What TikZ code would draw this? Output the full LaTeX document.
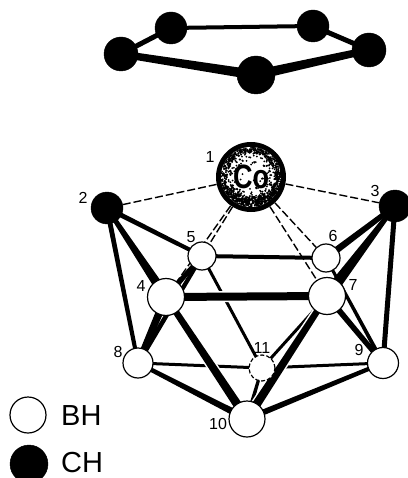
\documentclass[tikz,border=0pt]{standalone}
\usepackage{fontspec}
\setmainfont{Liberation Sans}
\usetikzlibrary{calc,backgrounds}
\newcommand{\bond}[4]{\fill ($(#1.center)!#3pt!90:(#2.center)$) -- ($(#2.center)!#4pt!-90:(#1.center)$) -- ($(#2.center)!#4pt!90:(#1.center)$) -- ($(#1.center)!#3pt!-90:(#2.center)$) -- cycle;}
\newcommand{\cbond}[4]{\begingroup\color{white}\fill ($(#1.center)!#3+1.5pt!90:(#2.center)$) -- ($(#2.center)!#4+1.5pt!-90:(#1.center)$) -- ($(#2.center)!#4+1.5pt!90:(#1.center)$) -- ($(#1.center)!#3+1.5pt!-90:(#2.center)$) -- cycle;\endgroup\bond{#1}{#2}{#3}{#4}}
\tikzset{
  ringatom/.style={circle,fill=black,draw=black,inner sep=0pt,minimum size=#1},
  bh/.style={circle,fill=white,draw=black,line width=1.2pt,inner sep=0pt,minimum size=#1},
  ch/.style={circle,fill=black,draw=black,inner sep=0pt,minimum size=#1},
  num/.style={inner sep=0pt,font=\fontsize{16}{16}\selectfont},
  legend/.style={inner sep=0pt,anchor=west,font=\fontsize{29}{29}\selectfont},
  dashbond/.style={line width=1.4pt,dash pattern=on 8pt off 3pt}
}
\begin{document}
\begin{tikzpicture}[x=1pt,y=-1pt]
\useasboundingbox (0,0) rectangle (407,478);
% ring
\node[ringatom=34pt] (ra) at (121,54) {};
\node[ringatom=32pt] (rb) at (171,28) {};
\node[ringatom=32pt] (rc) at (313,26) {};
\node[ringatom=34pt] (rd) at (369,50) {};
\node[ringatom=38pt] (re) at (256,75) {};
\begin{scope}[on background layer]
\bond{ra}{rb}{2.5}{2.5}
\bond{rb}{rc}{2}{2}
\bond{rc}{rd}{2.5}{2.5}
\bond{ra}{re}{3.5}{5}
\bond{re}{rd}{5}{3.5}
\end{scope}
% cage atoms
\node[circle,inner sep=0pt,minimum size=70pt] (co) at (251,177) {};
\node[ch=32pt] (n2) at (107,208) {};
\node[ch=32pt] (n3) at (395,206) {};
\node[bh=28pt] (n5) at (202,256) {};
\node[bh=28pt] (n6) at (326,258) {};
\node[bh=37pt] (n4) at (166,297) {};
\node[bh=37pt] (n7) at (327,296) {};
\node[bh=30pt] (n8) at (138,363) {};
\node[bh=31pt] (n9) at (383,363) {};
\node[circle,fill=white,draw=black,line width=1.2pt,inner sep=0pt,minimum size=26pt,dash pattern=on 4pt off 2pt] (n11) at (262,368) {};
\node[bh=36pt] (n10) at (247,419) {};
% cobalt
\fill[black] (co.center) circle (35);
\begin{scope}
\clip (co.center) circle (30);
\fill[white] (co.center) circle (30);
\pgfmathsetseed{42}
\foreach \i in {1,...,300}{
  \pgfmathsetmacro{\ang}{rnd*360}
  \pgfmathsetmacro{\rad}{30*pow(rnd,0.3)}
  \fill[black] ($(co.center)+(\ang:\rad)$) circle (1);
}
\foreach \i in {1,...,420}{
  \pgfmathsetmacro{\ang}{rnd*360}
  \pgfmathsetmacro{\rad}{24+6*rnd}
  \fill[black] ($(co.center)+(\ang:\rad)$) circle (1.1);
}
\foreach \i in {1,...,200}{
  \pgfmathsetmacro{\ang}{20+rnd*140}
  \pgfmathsetmacro{\rad}{19+11*rnd}
  \fill[black] ($(co.center)+(\ang:\rad)$) circle (1.2);
}
\end{scope}
\node[inner sep=0pt,font=\fontsize{27}{27}\selectfont\bfseries,yscale=1.25,transform shape] (colabel) at (251,177) {Co};
\begin{scope}[on background layer]
% hidden edges
\bond{n5}{n11}{1.5}{1.5}
\bond{n7}{n11}{1.5}{1.5}
\bond{n5}{n8}{2}{2.5}
\bond{n6}{n9}{1.5}{2}
\bond{n8}{n11}{1.5}{1.5}
\bond{n9}{n11}{1.5}{1.5}
\bond{n10}{n11}{2}{1.5}
\bond{n5}{n6}{2}{2}
% front edges
\cbond{n4}{n7}{4}{4}
\bond{n2}{n5}{2.5}{2}
\bond{n2}{n8}{2.5}{2}
\bond{n2}{n4}{2}{5}
\bond{n3}{n6}{2.5}{3.5}
\bond{n3}{n7}{2}{6}
\bond{n3}{n9}{2.5}{2.5}
\bond{n5}{n4}{2}{3}
\bond{n4}{n8}{4}{3}
\cbond{n4}{n10}{3}{4.5}
\cbond{n7}{n10}{3}{4.5}
\bond{n7}{n9}{3}{2.5}
\bond{n8}{n10}{2}{3.5}
\bond{n9}{n10}{2}{3}
% dashed edges to cobalt
\draw[dashbond] (co) -- (n2);
\draw[dashbond] (co) -- (n3);
\draw[dashbond] (co) -- (n4);
\draw[dashbond] (co) -- (n5);
\draw[dashbond] (co) -- (n6);
\draw[dashbond] (co) -- (n7);
\end{scope}
% labels
\node[num] (l1) at (210,157) {1};
\node[num] (l2) at (83,198) {2};
\node[num] (l3) at (375,191) {3};
\node[num] (l4) at (141,286) {4};
\node[num] (l5) at (191,237) {5};
\node[num] (l6) at (333,236) {6};
\node[num] (l7) at (353,285) {7};
\node[num] (l8) at (118,352) {8};
\node[num] (l9) at (359,350) {9};
\node[num] (l10) at (218,424) {10};
\node[num] (l11) at (262,348) {11};
% legend
\node[bh=36pt] (kb) at (28,415) {};
\node[ch=38pt] (kc) at (29,464) {};
\node[legend] (tb) at (61,416) {BH};
\node[legend] (tc) at (61,463) {CH};
\end{tikzpicture}
\end{document}
